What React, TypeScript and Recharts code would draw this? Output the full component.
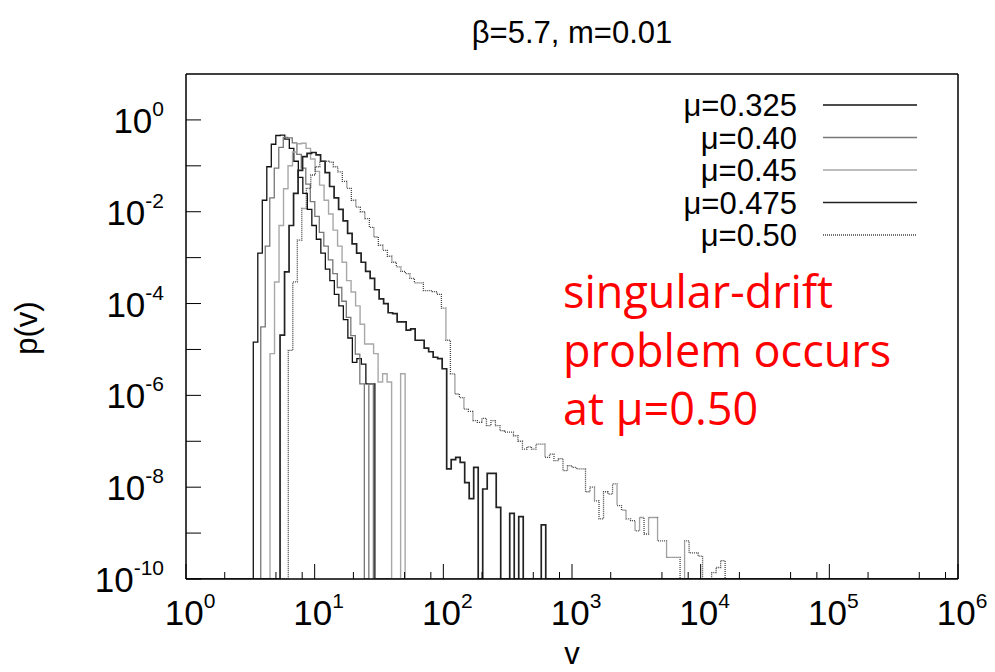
import React from "react";
import { LineChart, Line, XAxis, YAxis, Legend } from "recharts";

// histogram bins are uniform in log10(v)
const BIN = 0.035;
const FLOOR = -10;

const xDecades = [0, 1, 2, 3, 4, 5, 6];
const xMinorOffsets = [0.301, 0.699, 0.903]; // log10 of 2, 5, 8
const yDecades = [-10, -9, -8, -7, -6, -5, -4, -3, -2, -1, 0];

// log10 p(v) per bin; first bin starts at the given log10(v)
const start0325 = 0.523;
const logP0325 = [
  -4.84, -2.9, -1.75, -1.02, -0.53, -0.34, -0.33, -0.42, -0.62, -0.9, -1.25, -1.6, -1.95, -2.3,
  -2.6, -2.9, -3.25, -3.5, -3.8, -4.05, -4.35, -4.75, -5.28, -5.2, -5.32, -5.75, -5.75,
];

const start040 = 0.581;
const logP040 = [
  -4.51, -2.75, -1.7, -1.05, -0.6, -0.38, -0.39, -0.5, -0.75, -1.05, -1.4, -1.78, -2.1, -2.45,
  -2.75, -3.05, -3.35, -3.65, -3.95, -4.3, -4.7, -5.1, -5.75, -10, -5.75,
];

const start045 = 0.653;
const logP045 = [
  -5.09, -3.53, -2.3, -1.5, -1.0, -0.7, -0.52, -0.51, -0.62, -0.85, -1.12, -1.42, -1.75, -2.05,
  -2.4, -2.75, -3.1, -3.5, -3.75, -4.05, -4.45, -4.88, -4.88, -5.09, -5.71, -5.53, -5.71, -10,
  -10, -5.53,
];

const start0475 = 0.731;
const logP0475 = [
  -4.69, -3.31, -2.3, -1.6, -1.1, -0.8, -0.73, -0.71, -0.76, -0.9, -1.15, -1.45, -1.7, -1.95,
  -2.2, -2.47, -2.7, -2.9, -3.1, -3.3, -3.45, -3.7, -3.9, -4.0, -4.2, -4.22, -4.4, -4.4, -4.58,
  -4.55, -4.8, -4.8, -4.97, -5.05, -5.17, -5.2, -5.42, -7.6, -7.4, -7.35, -7.46, -7.9, -8.25,
  -7.57, -10, -8.04, -7.7, -7.7, -8.44, -10, -10, -8.57, -10, -8.64, -10, -10, -10, -10, -8.82,
];

const start050 = 0.795;
const logP050 = [
  -5.02, -3.53, -2.62, -1.93, -1.49, -1.2, -1.02, -0.9, -0.9, -0.92, -1.02, -1.13, -1.34, -1.49,
  -1.75, -1.9, -2.0, -2.15, -2.34, -2.55, -2.73, -2.84, -2.97, -3.1, -3.2, -3.3, -3.35, -3.45,
  -3.55, -3.55, -3.72, -3.72, -3.74, -3.8, -4.1, -4.8, -5.53, -5.97, -6.05, -6.3, -6.35, -6.55,
  -6.59, -6.5, -6.66, -6.55, -6.66, -6.77, -6.8, -6.8, -6.88, -7.0, -7.17, -7.12, -7.17, -7.06,
  -7.06, -7.35, -7.28, -7.42, -7.38, -7.64, -7.53, -7.57, -7.6, -7.6, -8.1, -8.0, -8.3, -8.69,
  -8.1, -8.15, -7.93, -8.4, -8.5, -8.69, -8.73, -8.95, -8.66, -9.02, -8.66, -8.66, -9.17, -9.17,
  -9.53, -9.53, -9.53, -10, -9.17, -9.43, -9.43, -9.5, -10, -10, -9.86, -9.75, -9.6,
];

const toSteps = (start: number, values: number[]) => {
  const pts = [{ x: 0, y: FLOOR }];
  values.forEach((y, i) => pts.push({ x: start + i * BIN, y }));
  pts.push({ x: start + values.length * BIN, y: FLOOR });
  pts.push({ x: 6, y: FLOOR });
  return pts;
};

const series = [
  { name: "\u03bc=0.325", data: toSteps(start0325, logP0325), color: "#111", width: 1.3, dash: undefined },
  { name: "\u03bc=0.40", data: toSteps(start040, logP040), color: "#777", width: 1.3, dash: undefined },
  { name: "\u03bc=0.45", data: toSteps(start045, logP045), color: "#a8a8a8", width: 1.4, dash: undefined },
  { name: "\u03bc=0.475", data: toSteps(start0475, logP0475), color: "#222", width: 1.7, dash: undefined },
  { name: "\u03bc=0.50", data: toSteps(start050, logP050), color: "#444", width: 1.3, dash: "1 1" },
];

const xTicks = xDecades.flatMap((d) => (d < 6 ? [d, ...xMinorOffsets.map((m) => d + m)] : [d]));

const FONT = "'Liberation Sans', Arial, sans-serif";
const isMajor = (v: number) => Math.abs(v - Math.round(v)) < 1e-6;

const BottomTick = ({ x, y, payload }: any) => {
  const v = payload.value;
  const major = isMajor(v);
  return (
    <g>
      <line x1={x} x2={x} y1={y} y2={y - (major ? 15 : 7)} stroke="#000" strokeWidth={1} />
      {major && (
        <text x={x + 4} y={y + 46} textAnchor="middle" fontSize={35} fontFamily={FONT} fill="#000">
          10<tspan dy={-17} fontSize={21}>{Math.round(v)}</tspan>
        </text>
      )}
    </g>
  );
};

const TopTick = ({ x, y, payload }: any) => {
  const major = isMajor(payload.value);
  return <line x1={x} x2={x} y1={y} y2={y + (major ? 15 : 7)} stroke="#000" strokeWidth={1} />;
};

const LeftTick = ({ x, y, payload }: any) => {
  const v = Math.round(payload.value);
  const labelled = v % 2 === 0;
  return (
    <g>
      <line x1={x} x2={x + 15} y1={y} y2={y} stroke="#000" strokeWidth={1} />
      {labelled && (
        <text x={x - 22} y={y + 13} textAnchor="end" fontSize={35} fontFamily={FONT} fill="#000">
          10<tspan dy={-17} fontSize={21}>{v}</tspan>
        </text>
      )}
    </g>
  );
};

const RightTick = ({ x, y, payload }: any) => {
  const v = Math.round(payload.value);
  return <line x1={x} x2={x - (v % 2 === 0 ? 15 : 7)} y1={y} y2={y} stroke="#000" strokeWidth={1} />;
};

const LegendBox = () => (
  <svg width={280} height={170}>
    {series.map((s, i) => {
      const cy = 17 + i * 32.5;
      return (
        <g key={s.name}>
          <text x={137} y={cy + 11} textAnchor="end" fontSize={31} fontFamily={FONT} fill="#000">
            {s.name}
          </text>
          <line x1={163} x2={257} y1={cy} y2={cy} stroke={s.color} strokeWidth={s.width} strokeDasharray={s.dash} />
        </g>
      );
    })}
  </svg>
);

export default function App() {
  return (
    <div style={{ position: "absolute", left: 0, top: 0, width: 995, height: 672, background: "#fff" }}>
      <LineChart width={995} height={672} margin={{ top: 0, right: 0, bottom: 0, left: 0 }}>
        <XAxis
          dataKey="x"
          type="number"
          domain={[0, 6]}
          ticks={xTicks}
          interval={0}
          height={93}
          tickSize={0}
          tickMargin={0}
          tickLine={false}
          tick={<BottomTick />}
          axisLine={{ stroke: "#000", strokeWidth: 1.5 }}
        />
        <XAxis
          xAxisId="top"
          orientation="top"
          type="number"
          domain={[0, 6]}
          ticks={xTicks}
          interval={0}
          height={74}
          tickSize={0}
          tickMargin={0}
          tickLine={false}
          tick={<TopTick />}
          axisLine={{ stroke: "#000", strokeWidth: 1.5 }}
        />
        <YAxis
          type="number"
          domain={[-10, 1]}
          ticks={yDecades}
          interval={0}
          width={186}
          tickSize={0}
          tickMargin={0}
          tickLine={false}
          tick={<LeftTick />}
          axisLine={{ stroke: "#000", strokeWidth: 1.5 }}
          allowDataOverflow
        />
        <YAxis
          yAxisId="right"
          orientation="right"
          type="number"
          domain={[-10, 1]}
          ticks={yDecades}
          interval={0}
          width={37}
          tickSize={0}
          tickMargin={0}
          tickLine={false}
          tick={<RightTick />}
          axisLine={{ stroke: "#000", strokeWidth: 1.5 }}
        />
        <Legend
          layout="vertical"
          align="center"
          verticalAlign="middle"
          content={() => <LegendBox />}
          wrapperStyle={{ position: "absolute", left: 660, top: 88, width: 280, height: 170 }}
        />
        {series.map((s) => (
          <Line
            key={s.name}
            data={s.data}
            dataKey="y"
            name={s.name}
            type="stepAfter"
            stroke={s.color}
            strokeWidth={s.width}
            strokeDasharray={s.dash}
            dot={false}
            activeDot={false}
            isAnimationActive={false}
          />
        ))}
      </LineChart>
      <svg
        width={995}
        height={672}
        style={{ position: "absolute", left: 0, top: 0, pointerEvents: "none" }}
      >
        <text x={572} y={43} textAnchor="middle" fontSize={31} fontFamily={FONT} fill="#000">
          {"\u03b2=5.7, m=0.01"}
        </text>
        <text x={37} y={328} transform="rotate(-90 37 328)" textAnchor="middle" fontSize={31} fontFamily={FONT} fill="#000">
          p(v)
        </text>
        <text x={572} y={664} textAnchor="middle" fontSize={31} fontFamily={FONT} fill="#000">
          v
        </text>
        <g fontFamily="'Open Sans', Lato, sans-serif" fontSize={45} fill="#ff0000">
          <text x={563} y={308}>singular-drift</text>
          <text x={563} y={367}>problem occurs</text>
          <text x={563} y={425}>{"at \u03bc=0.50"}</text>
        </g>
      </svg>
    </div>
  );
}
